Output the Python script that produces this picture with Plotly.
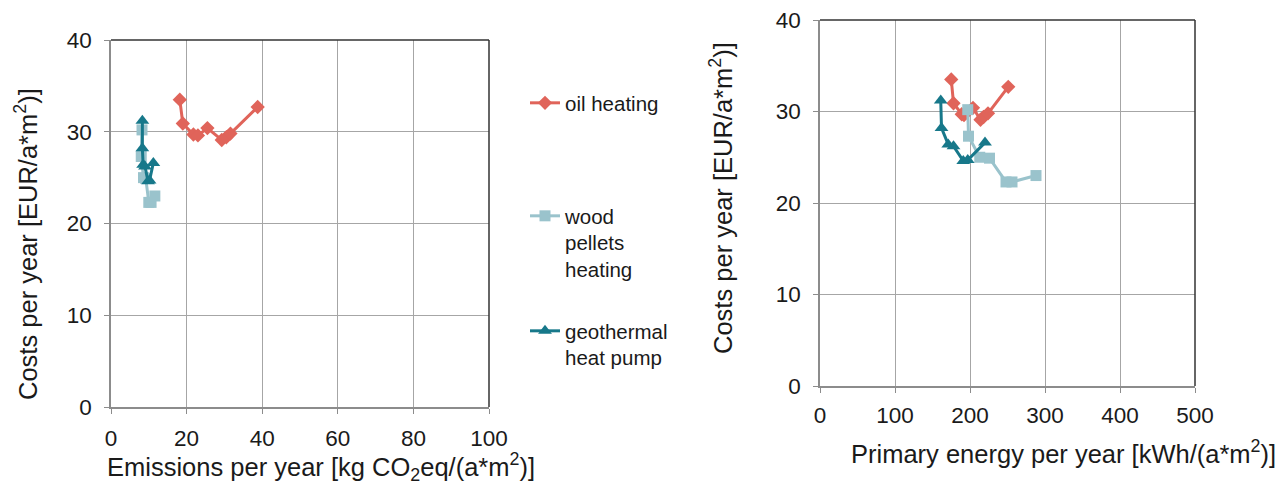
import plotly.graph_objects as go

# ---- data ----
oil_emis = [18.2, 19.0, 21.8, 23.0, 25.5, 29.3, 30.5, 31.6, 38.8]
oil_prim = [175, 178, 189, 192, 204, 214, 218, 224, 251]
oil_cost = [33.5, 30.9, 29.7, 29.6, 30.4, 29.1, 29.4, 29.8, 32.7]

wood_emis = [8.2, 8.0, 8.6, 9.2, 10.0, 10.6, 11.6]
wood_prim = [197, 198, 213, 226, 248, 256, 288]
wood_cost = [30.2, 27.3, 25.0, 24.9, 22.3, 22.3, 23.0]

geo_emis = [8.3, 8.3, 8.5, 9.0, 9.8, 10.2, 11.2]
geo_prim = [161, 162, 171, 178, 191, 197, 220]
geo_cost = [31.2, 28.2, 26.4, 26.2, 24.6, 24.7, 26.6]

series_names = ["oil heating", "wood<br>pellets<br>heating", "geothermal<br>heat pump"]
colors = ["#E0645A", "#9AC3CC", "#17788A"]
symbols = ["diamond", "square", "triangle-up"]
msizes = [11, 11, 12]

x_ticks_left = [0, 20, 40, 60, 80, 100]
x_ticks_right = [0, 100, 200, 300, 400, 500]
y_ticks = [0, 10, 20, 30, 40]

title_x_left = "Emissions per year [kg CO<sub>2</sub>eq/(a*m<sup>2</sup>)]"
title_x_right = "Primary energy per year [kWh/(a*m<sup>2</sup>)]"
title_y = "Costs per year [EUR/a*m<sup>2</sup>)]"

FONT = "Liberation Sans, Arial, sans-serif"
TXT = "#1a1a1a"

fig = go.Figure()
data_left = [(oil_emis, oil_cost), (wood_emis, wood_cost), (geo_emis, geo_cost)]
data_right = [(oil_prim, oil_cost), (wood_prim, wood_cost), (geo_prim, geo_cost)]
legends = ["legend", "legend2", "legend3"]

for i in range(3):
    fig.add_trace(go.Scatter(
        x=data_left[i][0], y=data_left[i][1], mode="lines+markers",
        name=series_names[i], legend=legends[i],
        line=dict(color=colors[i], width=3),
        marker=dict(symbol=symbols[i], size=msizes[i], color=colors[i]),
        xaxis="x", yaxis="y"))
for i in range(3):
    fig.add_trace(go.Scatter(
        x=data_right[i][0], y=data_right[i][1], mode="lines+markers",
        name=series_names[i], showlegend=False,
        line=dict(color=colors[i], width=3),
        marker=dict(symbol=symbols[i], size=msizes[i], color=colors[i]),
        xaxis="x2", yaxis="y2"))

# body margin is removed below, so the figure fills the whole window
W, H = 1277, 486


def px_x(p):
    return p / W


def px_y(p):
    return 1 - p / H


axis_common = dict(
    showgrid=True, gridcolor="#A6A6A6", gridwidth=1,
    showline=True, linecolor="#8C8C8C", linewidth=1.5,
    ticks="outside", ticklen=5, tickcolor="#8C8C8C",
    zeroline=False, automargin=False, ticklabeloverflow="allow",
    tickfont=dict(size=22.5, color=TXT, family=FONT),
)
TF = dict(size=25.5, color=TXT, family=FONT)
LF = dict(size=20.5, family=FONT, color=TXT)

fig.update_layout(
    width=W, height=H,
    margin=dict(l=0, r=0, t=0, b=0),
    paper_bgcolor="white", plot_bgcolor="white",
    font=dict(family=FONT, color=TXT),
    xaxis=dict(domain=[px_x(111), px_x(489)], range=[0, 100], tickvals=x_ticks_left,
               anchor="y", ticklabelstandoff=5, **axis_common),
    yaxis=dict(domain=[px_y(407), px_y(40)], range=[0, 40], tickvals=y_ticks,
               anchor="x", ticklabelstandoff=8, **axis_common),
    xaxis2=dict(domain=[px_x(820), px_x(1195)], range=[0, 500], tickvals=x_ticks_right,
                anchor="y2", ticklabelstandoff=3, **axis_common),
    yaxis2=dict(domain=[px_y(386), px_y(20)], range=[0, 40], tickvals=y_ticks,
                anchor="x2", ticklabelstandoff=8, **axis_common),
    legend=dict(x=px_x(525), y=px_y(83), xanchor="left", yanchor="top",
                font=LF, valign="top", bgcolor="rgba(0,0,0,0)"),
    legend2=dict(x=px_x(525), y=px_y(196), xanchor="left", yanchor="top",
                 font=LF, valign="top", bgcolor="rgba(0,0,0,0)"),
    legend3=dict(x=px_x(525), y=px_y(311), xanchor="left", yanchor="top",
                 font=LF, valign="top", bgcolor="rgba(0,0,0,0)"),
)

# axis titles as annotations (positioned like the reference)
fig.add_annotation(text=title_x_left, x=px_x(321), y=0, xref="paper", yref="paper",
                   xanchor="center", yanchor="bottom", showarrow=False, font=TF, borderpad=0)
fig.add_annotation(text=title_x_right, x=px_x(1063), y=px_y(452), xref="paper", yref="paper",
                   xanchor="center", yanchor="middle", showarrow=False, font=TF)
fig.add_annotation(text=title_y, x=px_x(26), y=px_y(244), xref="paper", yref="paper",
                   xanchor="center", yanchor="middle", textangle=-90, showarrow=False, font=TF)
fig.add_annotation(text=title_y, x=px_x(721), y=px_y(198), xref="paper", yref="paper",
                   xanchor="center", yanchor="middle", textangle=-90, showarrow=False, font=TF)

# dark frame on top and right of both plot areas
for xd, yd in [("x domain", "y domain"), ("x2 domain", "y2 domain")]:
    fig.add_shape(type="line", xref=xd, yref=yd, x0=0, x1=1, y0=1, y1=1,
                  line=dict(color="#333333", width=1.5))
    fig.add_shape(type="line", xref=xd, yref=yd, x0=1, x1=1, y0=0, y1=1,
                  line=dict(color="#333333", width=1.5))

fig.write_html("out.html", config={"displayModeBar": False},
               post_script="document.body.style.margin='0px';document.body.style.overflow='hidden';")
